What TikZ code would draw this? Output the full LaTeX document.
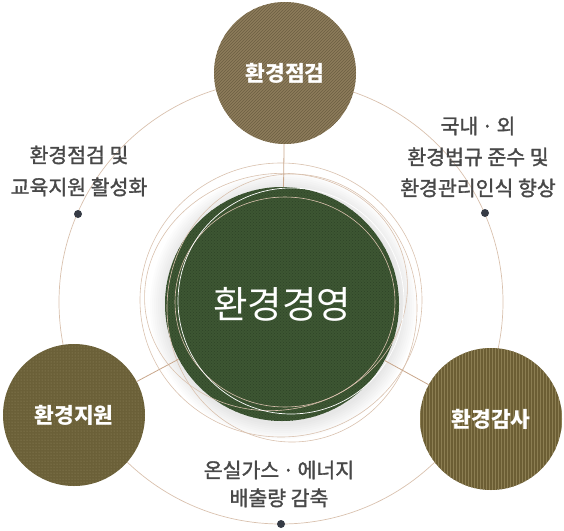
\documentclass[tikz,border=0pt]{standalone}
\usepackage{fontspec}
\setmainfont{Noto Sans CJK KR}
\newfontfamily\notefont{Noto Sans CJK KR}[FakeBold=1.5]
\usetikzlibrary{patterns}

\definecolor{ringtan}{HTML}{D9C1AE}
\definecolor{linktan}{HTML}{C9A78C}
\definecolor{labelgrey}{HTML}{484848}
\definecolor{dotgrey}{HTML}{363B45}
\definecolor{hubgreen}{HTML}{3D5633}
\definecolor{hubdark}{HTML}{2E4326}
\definecolor{checkbase}{HTML}{8D7C5B}
\definecolor{checkline}{HTML}{6C5E42}
\definecolor{supportbase}{HTML}{6B6038}
\definecolor{supportdot}{HTML}{978C65}
\definecolor{auditbase}{HTML}{6C5E34}
\definecolor{auditline}{HTML}{8C7E52}

\tikzset{
	satellite/.style={circle, minimum size=142pt, inner sep=0pt, text=white,
		font=\fontsize{21.5}{24}\selectfont\bfseries},
	orbit/.style={draw=ringtan, line width=0.6pt},
	remark/.style={align=center, text=labelgrey, font=\fontsize{20.5}{31}\notefont},
	ringdot/.style={circle, fill=dotgrey, minimum size=8pt, inner sep=0pt},
}

\begin{document}
\begin{tikzpicture}[x=1pt, y=-1pt]
			%%%%% START %%%%%
			\useasboundingbox (0, 0) rectangle (564, 530);
			
			\draw[ringtan, line width=0.7pt] (281, 302) circle (222);
			
			% soft shadow round the hub
			\foreach \r in {1,...,8}
				\fill[black, opacity=0.012] (283, 306) circle (117+2*\r);
			
			\node[circle, minimum size=234pt, inner sep=0pt, preaction={fill=hubgreen},
				pattern=crosshatch dots, pattern color=hubdark] (hub) at (282, 304) {};
			
			\draw[orbit] (281, 300) ellipse (141 and 137);
			\draw[orbit] (292, 308) ellipse (125 and 134);
			\draw[orbit, rotate around={12:(276, 292)}] (276, 292) ellipse (132 and 118);
			\draw[orbit] (285, 302) ellipse (110 and 105);
			\draw[white, line width=0.7pt] (291, 301) circle (113);
			
			\node[white, font=\fontsize{37.5}{40}\selectfont] (hublabel) at (hub.center) {환경경영};
			
			\node[satellite, preaction={fill=checkbase}, pattern=north east lines,
				pattern color=checkline] (check) at (285, 73) {환경점검};
			\node[satellite, preaction={fill=supportbase}, pattern=dots,
				pattern color=supportdot] (support) at (74, 415) {환경지원};
			\node[satellite, preaction={fill=auditbase}, pattern=vertical lines,
				pattern color=auditline] (audit) at (491, 419) {환경감사};
			
			\draw[linktan, line width=0.8pt] (check) -- (hub);
			\draw[linktan, line width=0.8pt] (support) -- (hub);
			\draw[linktan, line width=0.8pt] (audit) -- (hub);
			
			\node[remark, font=\fontsize{20.5}{32}\notefont] (leftnote) at (79, 171) {환경점검 및\\교육지원 활성화};
			\node[ringdot] (leftdot) at (78, 214) {};
			
			\node[remark] (rightnote) at (478, 157) {국내\,·\,외\\환경법규 준수 및\\환경관리인식 향상};
			\node[ringdot] (rightdot) at (485, 213) {};
			
			\node[remark, font=\fontsize{20.5}{28}\notefont] (bottomnote) at (279, 484) {온실가스\,·\,에너지\\배출량 감축};
			\node[ringdot] (bottomdot) at (281, 524) {};
			
			%%%%% END %%%%%
\end{tikzpicture}
\end{document}
